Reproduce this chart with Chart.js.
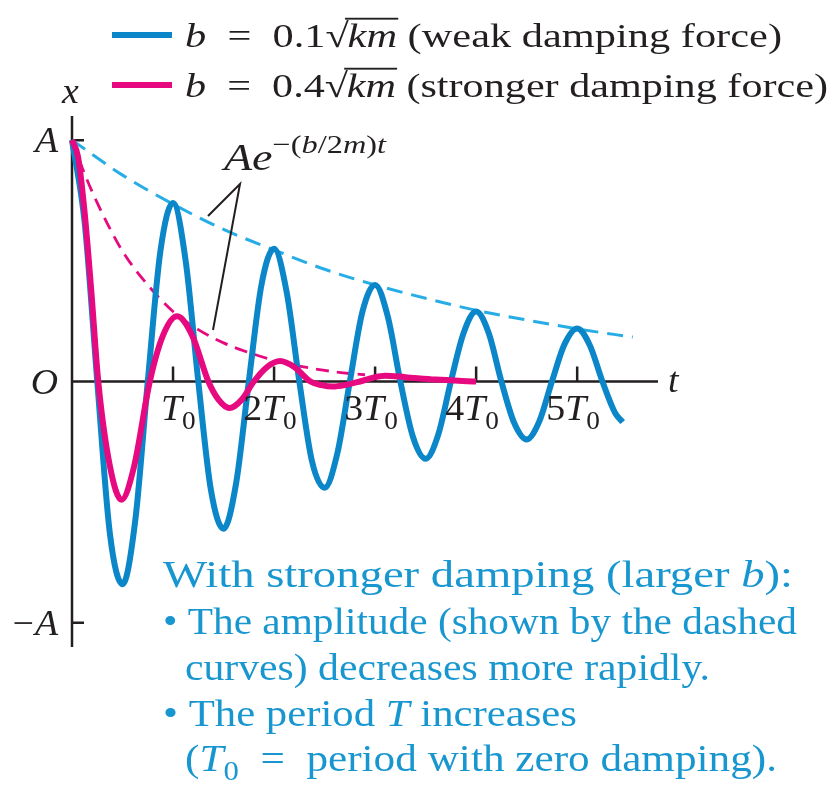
<!DOCTYPE html>
<html>
<head>
<meta charset="utf-8">
<script src="https://cdn.jsdelivr.net/npm/chart.js@4.4.1/dist/chart.umd.min.js"></script>
<style>
html, body { margin: 0; padding: 0; background: #fff; }
#c { display: block; }
</style>
</head>
<body>
<canvas id="c" width="834" height="795"></canvas>
<script>
// time in units of T0, displacement in units of A
var weakT = [0, 0.125, 0.25, 0.375, 0.5, 0.625, 0.75, 0.875, 1, 1.125, 1.25, 1.375, 1.5, 1.625, 1.75, 1.875,
  2, 2.125, 2.25, 2.375, 2.5, 2.625, 2.75, 2.875, 3, 3.125, 3.25, 3.375, 3.5, 3.625, 3.75, 3.875,
  4, 4.125, 4.25, 4.375, 4.5, 4.625, 4.75, 4.875, 5, 5.125, 5.25, 5.375, 5.45];
var weakX = [1.00, 0.66, 0.00, -0.63, -0.84, -0.58, 0.00, 0.54, 0.74, 0.50, 0.00, -0.45, -0.61, -0.42, 0.00, 0.40,
  0.55, 0.37, 0.00, -0.33, -0.44, -0.30, 0.00, 0.29, 0.40, 0.27, 0.00, -0.23, -0.32, -0.22, 0.00, 0.20,
  0.29, 0.20, 0.00, -0.17, -0.24, -0.165, 0.00, 0.155, 0.22, 0.15, 0.00, -0.13, -0.168];

var strongT = [0, 0.06, 0.125, 0.19, 0.26, 0.375, 0.49, 0.61, 0.77, 0.9, 1.04, 1.19, 1.35, 1.45, 1.56, 1.68,
  1.8, 1.93, 2.06, 2.2, 2.36, 2.47, 2.58, 2.7, 2.85, 3.0, 3.1, 3.3, 3.6, 4.0];
var strongX = [1.00, 0.93, 0.70, 0.38, 0.00, -0.35, -0.49, -0.36, 0.00, 0.19, 0.27, 0.19, 0.00, -0.075, -0.11, -0.075,
  0.00, 0.06, 0.085, 0.06, 0.00, -0.015, -0.021, -0.015, 0.00, 0.018, 0.024, 0.018, 0.008, 0.00];

var weakEnvT = [0, 0.5, 1, 1.5, 2, 2.5, 3, 3.5, 4, 4.5, 5, 5.55];
var weakEnv = [1.00, 0.855, 0.735, 0.63, 0.545, 0.465, 0.40, 0.345, 0.295, 0.255, 0.218, 0.184];

var strongEnvT = [0, 0.125, 0.25, 0.5, 0.75, 1, 1.25, 1.5, 1.75, 2, 2.25, 2.5, 2.75, 2.9];
var strongEnv = [1.00, 0.86, 0.74, 0.54, 0.40, 0.29, 0.215, 0.16, 0.12, 0.088, 0.064, 0.046, 0.033, 0.028];

var periodTicks = [1, 2, 3, 4, 5];
var periodPrefix = ['', '2', '3', '4', '5'];
var ampTicks = [1, 0, -1];
var ampLabels = ['A', 'O', '\u2212A'];

var BLUE = '#0b86c8';
var BLUE_DASH = '#27ade6';
var PINK = '#e6097f';
var TEXT_BLUE = '#1896cf';
var INK = '#231f20';
var SERIF = '"Liberation Serif", Tinos, "Times New Roman", "Nimbus Roman", FreeSerif, "Noto Serif", "DejaVu Serif", serif';

function pts(ts, xs) {
  return ts.map(function (t, i) { return { x: t, y: xs[i] }; });
}

// draw a run of text pieces; returns width in px
function run(ctx, parts, x, y, size, hs, color, measureOnly) {
  ctx.save();
  ctx.translate(x, y);
  ctx.scale(hs, 1);
  ctx.fillStyle = color;
  ctx.textBaseline = 'alphabetic';
  ctx.textAlign = 'left';
  var cx = 0;
  parts.forEach(function (p) {
    var s = Math.round(size * (p.k || 1));
    ctx.font = (p.i ? 'italic ' : '') + s + 'px ' + SERIF;
    var w = ctx.measureText(p.t).width;
    if (!measureOnly) {
      ctx.fillText(p.t, cx, p.dy || 0);
      if (p.bar) ctx.fillRect(cx - 2, -size * 0.86, w + 3, size * 0.055);
    }
    cx += w + (p.gap || 0);
  });
  ctx.restore();
  return cx * hs;
}

// fit a run between two x positions
function fit(ctx, parts, x1, x2, y, size, color) {
  var hs = (x2 - x1) / run(ctx, parts, 0, 0, size, 1, color, true);
  run(ctx, parts, x1, y, size, hs, color);
}

var axesPlugin = {
  id: 'axes',
  beforeDatasetsDraw: function (chart) {
    var ctx = chart.ctx, xs = chart.scales.x, ys = chart.scales.y;
    var x0 = xs.getPixelForValue(0), y0 = ys.getPixelForValue(0);
    ctx.save();
    ctx.strokeStyle = INK;
    ctx.lineWidth = 2.5;
    ctx.beginPath();
    ctx.moveTo(x0, ys.top); ctx.lineTo(x0, ys.bottom);
    ctx.moveTo(x0, y0); ctx.lineTo(xs.right, y0);
    periodTicks.forEach(function (t) {
      var px = xs.getPixelForValue(t);
      ctx.moveTo(px, y0); ctx.lineTo(px, y0 - 15);
    });
    ampTicks.forEach(function (v) {
      if (v === 0) return;
      var py = ys.getPixelForValue(v);
      ctx.moveTo(x0, py); ctx.lineTo(x0 + 12, py);
    });
    ctx.stroke();
    ctx.restore();
  },
  afterDraw: function (chart) {
    var ctx = chart.ctx, xs = chart.scales.x, ys = chart.scales.y;
    var x0 = xs.getPixelForValue(0), y0 = ys.getPixelForValue(0);
    var hs = 1.05;

    // y labels
    ampTicks.forEach(function (v, i) {
      var lab = ampLabels[i];
      var parts = lab.charAt(0) === '\u2212'
        ? [{ t: '\u2212', gap: 1 }, { t: 'A', i: true }]
        : [{ t: lab, i: true }];
      var w = run(ctx, parts, 0, 0, 36, hs, INK, true);
      run(ctx, parts, x0 - 14 - w, ys.getPixelForValue(v) + 12, 36, hs, INK);
    });
    // x ticks nT0
    periodTicks.forEach(function (t, i) {
      var px = xs.getPixelForValue(t);
      var pre = periodPrefix[i];
      var wp = pre ? run(ctx, [{ t: pre }], 0, 0, 36, hs, INK, true) : 0;
      run(ctx, [{ t: pre }, { t: 'T', i: true }, { t: '0', k: 0.72, dy: 9 }], px - 12 - wp, y0 + 38, 36, hs, INK);
    });
    // axis names
    run(ctx, [{ t: 'x', i: true }], x0 - 10, 103, 36, hs, INK);
    run(ctx, [{ t: 't', i: true }], xs.right + 10, y0 + 10, 36, hs, INK);

    // legend
    ctx.save();
    ctx.lineWidth = 6;
    ctx.strokeStyle = BLUE;
    ctx.beginPath(); ctx.moveTo(112, 35); ctx.lineTo(172, 35); ctx.stroke();
    ctx.strokeStyle = PINK;
    ctx.beginPath(); ctx.moveTo(112, 85); ctx.lineTo(172, 85); ctx.stroke();
    ctx.restore();
    function legendRow(num, words) {
      return [{ t: 'b', i: true }, { t: '\u2002=\u2002' }, { t: num }, { t: '\u221A', gap: -1 },
        { t: 'km', i: true, bar: true }, { t: ' ' + words }];
    }
    fit(ctx, legendRow('0.1', '(weak damping force)'), 185, 782, 47, 34, INK);
    fit(ctx, legendRow('0.4', '(stronger damping force)'), 185, 828, 97, 34, INK);

    // envelope label with leader lines
    fit(ctx, [{ t: 'Ae', i: true }, { t: '\u2212(', k: 0.7, dy: -17 }, { t: 'b', i: true, k: 0.7, dy: -17 },
      { t: '/2', k: 0.7, dy: -17 }, { t: 'm', i: true, k: 0.7, dy: -17 }, { t: ')', k: 0.7, dy: -17 },
      { t: 't', i: true, k: 0.7, dy: -17 }], 224, 386, 170, 37, INK);
    ctx.save();
    ctx.strokeStyle = INK;
    ctx.lineWidth = 2;
    ctx.beginPath();
    ctx.moveTo(208, 216); ctx.lineTo(240, 184); ctx.lineTo(213, 330);
    ctx.stroke();
    ctx.restore();

    // note block
    var lines = [
      [{ t: 'With stronger damping (larger ' }, { t: 'b', i: true }, { t: '):' }],
      [{ t: '\u2022 The amplitude (shown by the dashed' }],
      [{ t: 'curves) decreases more rapidly.' }],
      [{ t: '\u2022 The period ' }, { t: 'T', i: true }, { t: ' increases' }],
      [{ t: '(' }, { t: 'T', i: true }, { t: '0', k: 0.72, dy: 9 }, { t: '\u2002=\u2002period with zero damping).' }]
    ];
    var lx = [163, 163, 185, 163, 185];
    var rx = [793, 797, 710, 577, 777];
    var ly = [587, 634, 680, 726, 771];
    lines.forEach(function (ln, i) { fit(ctx, ln, lx[i], rx[i], ly[i], 38, TEXT_BLUE); });
  }
};

new Chart(document.getElementById('c'), {
  type: 'line',
  data: {
    datasets: [
      { data: pts(strongT, strongX), borderColor: PINK, borderWidth: 6, order: 0 },
      { data: pts(weakT, weakX), borderColor: BLUE, borderWidth: 6, order: 1 },
      { data: pts(weakEnvT, weakEnv), borderColor: BLUE_DASH, borderWidth: 3, borderDash: [16, 9], order: 2 },
      { data: pts(strongEnvT, strongEnv), borderColor: PINK, borderWidth: 2.8, borderDash: [13, 8], order: 3 }
    ]
  },
  options: {
    responsive: false,
    animation: false,
    events: [],
    layout: { padding: { left: 72, top: 116, right: 176, bottom: 148 } },
    elements: {
      point: { radius: 0 },
      line: { cubicInterpolationMode: 'monotone', fill: false }
    },
    datasets: { line: { clip: false } },
    plugins: { legend: { display: false }, tooltip: { enabled: false } },
    scales: {
      x: { type: 'linear', min: 0, max: 5.8, display: false },
      y: { min: -1.1, max: 1.1, display: false }
    }
  },
  plugins: [axesPlugin]
});
</script>
</body>
</html>
